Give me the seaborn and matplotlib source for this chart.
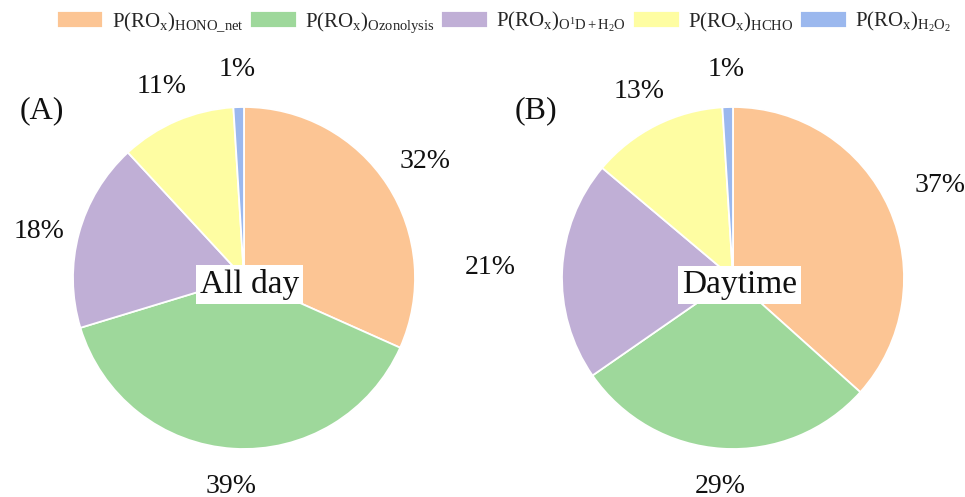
import matplotlib
matplotlib.use("Agg")
import matplotlib.pyplot as plt
import seaborn as sns

# Radical production pathways and their shares (%)
sources = ["HONO_net", "Ozonolysis", "O1D+H2O", "HCHO", "H2O2"]
legend_labels = [
    r"$\mathrm{P(RO_x)_{HONO\_net}}$",
    r"$\mathrm{P(RO_x)_{Ozonolysis}}$",
    r"$\mathrm{P(RO_x)_{O^1D+H_2O}}$",
    r"$\mathrm{P(RO_x)_{HCHO}}$",
    r"$\mathrm{P(RO_x)_{H_2O_2}}$",
]
all_day = [32, 39, 18, 11, 1]
daytime = [37, 29, 21, 13, 1]
colors = ["#FCC594", "#9ED89B", "#C0AFD6", "#FEFDA2", "#9BB8EE"]

sns.set_theme(style="white")
plt.rcParams["font.family"] = ["Liberation Serif", "DejaVu Serif"]
plt.rcParams["mathtext.fontset"] = "custom"
plt.rcParams["mathtext.rm"] = "Liberation Serif"
plt.rcParams["mathtext.it"] = "Liberation Serif:italic"
plt.rcParams["mathtext.bf"] = "Liberation Serif:bold"

W, H = 965, 497
fig = plt.figure(figsize=(W / 100, H / 100), dpi=100)
palette = sns.color_palette(colors)

R = 171  # pie radius in pixels
XL, YL = 1.45, 1.35


def pie_axes(cx, cy):
    left = (cx - XL * R) / W
    bottom = (H - cy - YL * R) / H
    return fig.add_axes([left, bottom, 2 * XL * R / W, 2 * YL * R / H])


def draw(ax, values, tag, tag_xy, title, moves, box_xy):
    wedges, _, pcts = ax.pie(
        values, colors=palette, startangle=90, counterclock=False,
        autopct="%.0f%%", pctdistance=1.22, radius=1,
        wedgeprops=dict(edgecolor="white", linewidth=1.3),
        textprops=dict(fontsize=20, color="#111111"),
    )
    for idx, xy in moves.items():
        pcts[idx].set_position(xy)
    ax.set_xlim(-XL, XL)
    ax.set_ylim(-YL, YL)
    ax.set_axis_off()
    ax.text(tag_xy[0], tag_xy[1], tag, fontsize=23, ha="center", va="center",
            color="#111111")
    ax.text(box_xy[0], box_xy[1], title, fontsize=24, ha="center", va="center",
            color="#111111",
            bbox=dict(facecolor="white", edgecolor="none", pad=3))
    return wedges


ax1 = pie_axes(244, 278)
wedges = draw(ax1, all_day, "(A)", (-1.18, 0.98), "All day",
              {0: (1.06, 0.68), 2: (-1.20, 0.27)}, (0.03, -0.04))
ax2 = pie_axes(733, 278)
draw(ax2, daytime, "(B)", (-1.15, 0.98), "Daytime",
     {0: (1.21, 0.54), 2: (-1.42, 0.06)}, (0.04, -0.04))

fig.legend(wedges, legend_labels, loc="upper center", ncol=5,
           bbox_to_anchor=(0.522, 1.005), frameon=False, fontsize=15,
           handlelength=2.25, handleheight=0.85, handletextpad=0.4,
           columnspacing=0.3, borderaxespad=0.2)

fig.savefig("out.png", dpi=100)
